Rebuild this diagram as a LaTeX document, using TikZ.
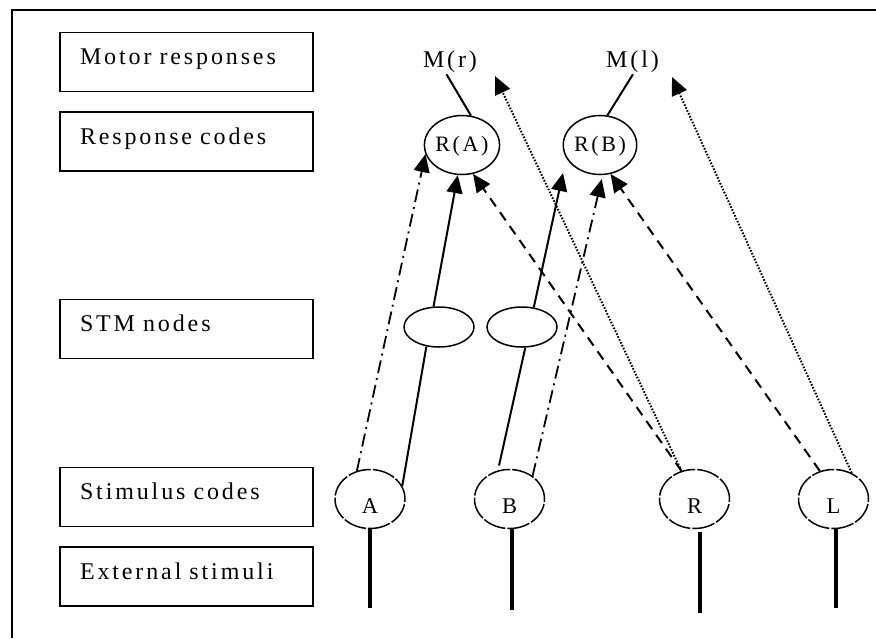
\documentclass[tikz,border=0pt]{standalone}
\usepackage{fontspec}
\setmainfont{Liberation Serif}[LetterSpace=12]
\usetikzlibrary{arrows.meta,shapes.geometric}
\begin{document}
\begin{tikzpicture}[x=1pt,y=-1pt,
  lbl/.style={draw, line width=1.5pt, rectangle, minimum width=253pt, minimum height=59pt,
    text width=213pt, inner xsep=20pt, inner ysep=0pt, align=left, text height=14pt, text depth=8.2pt,
    font=\fontsize{24}{28}\selectfont},
  mlab/.style={anchor=base, inner sep=2pt, font=\fontsize{24}{28}\selectfont},
  rcode/.style={ellipse, draw, line width=1.5pt, minimum width=70pt, minimum height=59pt, inner sep=0pt,
    text height=14.5pt, text depth=0.6pt, font=\fontsize{22}{26}\selectfont},
  stm/.style={ellipse, draw, line width=1.5pt, fill=white, minimum width=70pt, minimum height=40pt, inner sep=0pt},
  stim/.style={ellipse, draw, line width=1.5pt, dash pattern=on 23pt off 2pt, minimum width=70pt,
    minimum height=59pt, inner sep=0pt, text height=28pt, text depth=0pt, font=\fontsize{22.5}{26}\selectfont},
  plain/.style={line width=2pt},
  solidarr/.style={line width=2pt, -{Triangle[length=18pt,width=16pt]}},
  dasharr/.style={solidarr, dash pattern=on 10pt off 7pt},
  dashdotarr/.style={solidarr, line width=1.8pt, dash pattern=on 13pt off 5pt on 2pt off 5pt},
  dotarr/.style={solidarr, line width=2pt, dash pattern=on 1.6pt off 1.6pt},
  stimline/.style={line width=4.5pt}]
\useasboundingbox (0,0) rectangle (876,638);
\draw[line width=2.5pt] (12,638) -- (12,10) -- (876,10);

\node[lbl] (b1) at (186.5,62) {Motor responses};
\node[lbl] (b2) at (186.5,141.5) {Response codes};
\node[lbl] (b3) at (186.5,329) {STM nodes};
\node[lbl] (b4) at (186.5,497) {Stimulus codes};
\node[lbl] (b5) at (186.5,576.5) {External stimuli};

\node[mlab] (Mr) at (450,67) {M(r)};
\node[mlab] (Ml) at (632.5,67) {M(l)};
\node[rcode] (RA) at (462,145) {R(A)};
\node[rcode] (RB) at (600,145) {R(B)};
\node[stm] (S1) at (439,327) {};
\node[stm] (S2) at (522,327) {};
\node[stim] (A) at (370,499) {A};
\node[stim] (B) at (509.5,499) {B};
\node[stim] (R) at (694.5,499) {R};
\node[stim] (L) at (833.5,499) {L};

\coordinate (tipR) at (495,76);
\coordinate (tipL) at (672,77);
\coordinate (tipB) at (563,173);
\coordinate (eA) at (370,608);
\coordinate (eB) at (512,609.5);
\coordinate (eR) at (700,613);
\coordinate (eL) at (836,608);

\draw[plain] (Mr.255) -- (RA.73);
\draw[plain] (Ml.272) -- (RB.76);
\draw[plain] (A.22) -- (S1.237);
\draw[solidarr] (S1.105) -- (RA.262);
\draw[plain, shorten <=5pt] (B.112) -- (S2.279);
\draw[solidarr] (S2.59) -- (tipB);
\draw[dashdotarr] (A.115) -- (RA.194);
\draw[dashdotarr, shorten >=4pt] (B.45) -- (RB.275);
\draw[dasharr] (R.115) -- (RA.291);
\draw[dasharr] (L.116) -- (RB.290);
\draw[dotarr] (R.115) -- (tipR);
\draw[dotarr] (L.55) -- (tipL);

\draw[stimline] (A.south) -- (eA);
\draw[stimline] (B.south -| eB) -- (eB);
\draw[stimline, shorten <=3pt] (R.south -| eR) -- (eR);
\draw[stimline] (L.south -| eL) -- (eL);
\end{tikzpicture}
\end{document}
